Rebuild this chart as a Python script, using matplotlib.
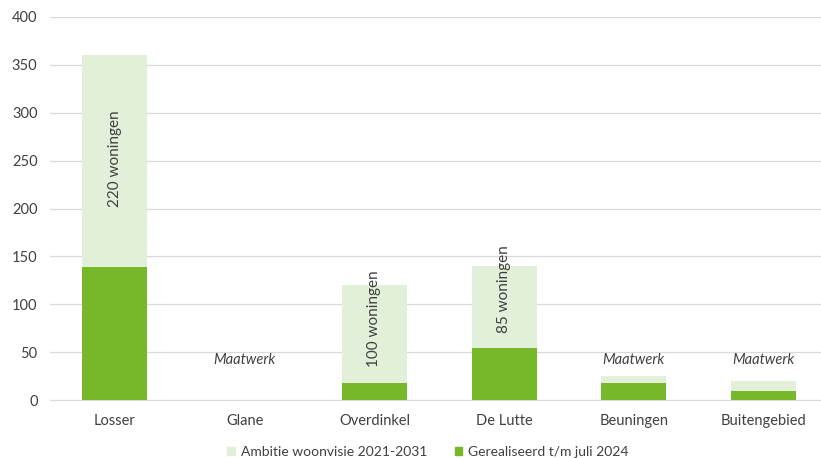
import matplotlib
matplotlib.use("Agg")
import matplotlib.pyplot as plt
from matplotlib.patches import Patch

categories = ["Losser", "Glane", "Overdinkel", "De Lutte", "Beuningen", "Buitengebied"]
gerealiseerd = [139, 0, 18, 54, 18, 9]
ambitie = [221, 0, 102, 86, 7, 11]
labels = ["220 woningen", "", "100 woningen", "85 woningen", "", ""]
label_y = [252, 0, 85, 116, 0, 0]
maatwerk = ["", "Maatwerk", "", "", "Maatwerk", "Maatwerk"]
maatwerk_y = 42

plt.rcParams['font.family'] = ['Lato', 'DejaVu Sans']
fig = plt.figure(figsize=(8.21, 4.58), dpi=100)
W, H = 821, 458
ax = fig.add_axes([50 / W, 58 / H, 778.5 / W, 383 / H])

dark = "#76B82A"
light = "#E2EFD9"
x = list(range(len(categories)))
ax.bar(x, gerealiseerd, width=0.5, color=dark, zorder=3)
ax.bar(x, ambitie, width=0.5, bottom=gerealiseerd, color=light, zorder=3)

for i, t in enumerate(labels):
    if t:
        ax.text(i, label_y[i], t, rotation=90, ha="center", va="center",
                fontsize=11, color="#404040", zorder=4)
for i, t in enumerate(maatwerk):
    if t:
        ax.text(i, maatwerk_y, t, ha="center", va="center", fontsize=10.5,
                style="italic", color="#404040", zorder=4)

ax.set_xlim(-0.5, 5.5)
ax.set_ylim(0, 400)
ax.set_yticks(range(0, 401, 50))
ax.set_xticks(x)
ax.set_xticklabels(categories)
ax.yaxis.grid(True, color="#D9D9D9", linewidth=0.9, zorder=0)
ax.set_axisbelow(True)
for s in ["top", "right", "left"]:
    ax.spines[s].set_visible(False)
ax.spines["bottom"].set_color("#D9D9D9")
ax.tick_params(axis="both", length=0, labelsize=10.5, colors="#404040")
ax.tick_params(axis="x", pad=10)
ax.tick_params(axis="y", pad=9)

handles = [Patch(color=light, label="Ambitie woonvisie 2021-2031"),
           Patch(color=dark, label="Gerealiseerd t/m juli 2024")]
fig.legend(handles=handles, loc="center", bbox_to_anchor=(428 / W, 1 - 452 / H),
           ncol=2, frameon=False, fontsize=10, handlelength=0.55, handleheight=0.55,
           handletextpad=0.4, columnspacing=2.0, labelcolor="#404040")

fig.savefig("out.png", dpi=100)
